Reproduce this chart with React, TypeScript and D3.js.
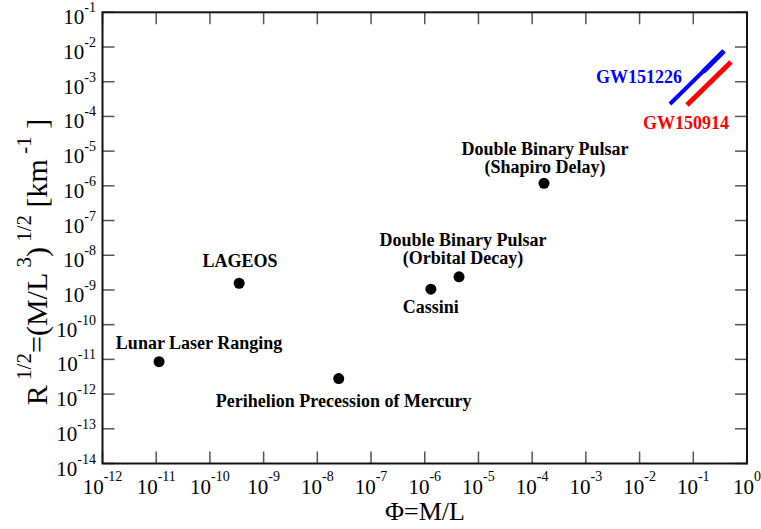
import React from "react";
import * as d3 from "d3";

const W = 761;
const H = 529;
const M = { left: 102.5, right: 14, top: 12.3, bottom: 65.5 };

const xExponents = [-12, -11, -10, -9, -8, -7, -6, -5, -4, -3, -2, -1, 0];
const yExponents = [-14, -13, -12, -11, -10, -9, -8, -7, -6, -5, -4, -3, -2, -1];

const pointNames = [
  "Lunar Laser Ranging",
  "LAGEOS",
  "Perihelion Precession of Mercury",
  "Cassini",
  "Double Binary Pulsar (Orbital Decay)",
  "Double Binary Pulsar (Shapiro Delay)",
];
const pointX = [1.13e-11, 3.5e-10, 2.5e-8, 1.3e-6, 4.35e-6, 1.66e-4];
const pointY = [8.6e-12, 1.56e-9, 2.8e-12, 1.05e-9, 2.4e-9, 1.18e-6];

const labelLines = [
  ["Lunar Laser Ranging"],
  ["LAGEOS"],
  ["Perihelion Precession of Mercury"],
  ["Cassini"],
  ["Double Binary Pulsar", "(Orbital Decay)"],
  ["Double Binary Pulsar", "(Shapiro Delay)"],
];
const labelDx = [40, 1, 5, 0, 4, 1];
const labelDy = [-13, -16, 28, 24, -31, -28];

const gwNames = ["GW151226", "GW150914"];
const gwColors = ["#0000ff", "#ff0000"];
const gwX = [
  [0.0368, 0.372],
  [0.0764, 0.504],
];
const gwY = [
  [2.28e-4, 7.7e-3],
  [2.13e-4, 3.7e-3],
];
// wider upper part of the GW151226 band
const gw151226BandX = [0.153, 0.372];
const gw151226BandY = [1.94e-3, 7.7e-3];

const FONT = "Liberation Serif";

export default function App() {
  const x = d3
    .scaleLog()
    .domain([1e-12, 1])
    .range([M.left, W - M.right]);
  const y = d3
    .scaleLog()
    .domain([1e-14, 1e-1])
    .range([H - M.bottom, M.top]);

  const [x0, x1] = x.range();
  const [y0, y1] = y.range();
  const tickLen = 12;
  const line = d3.line<[number, number]>().x((d) => x(d[0])).y((d) => y(d[1]));

  const boldProps = (c: string) => ({
    fontFamily: FONT,
    fontWeight: 700,
    fontSize: 18,
    fill: c,
  });

  return (
    <svg
      width={W}
      height={H}
      style={{ position: "absolute", left: 0, top: 0, background: "#fff", fontFamily: FONT }}
    >
      <rect x={0} y={0} width={W} height={H} fill="#fff" />
      {xExponents.map((e) => {
        const px = x(Math.pow(10, e));
        return (
          <g key={"xt" + e} stroke="#555" strokeWidth={1.5}>
            <line x1={px} x2={px} y1={y0} y2={y0 - tickLen} />
            <line x1={px} x2={px} y1={y1} y2={y1 + tickLen} />
          </g>
        );
      })}
      {yExponents.map((e) => {
        const py = y(Math.pow(10, e));
        return (
          <g key={"yt" + e} stroke="#555" strokeWidth={1.5}>
            <line x1={x0} x2={x0 + tickLen} y1={py} y2={py} />
            <line x1={x1} x2={x1 - tickLen} y1={py} y2={py} />
          </g>
        );
      })}
      <rect
        x={x0}
        y={y1}
        width={x1 - x0}
        height={y0 - y1}
        fill="none"
        stroke="#111"
        strokeWidth={2}
      />
      {xExponents.map((e) => (
        <text
          key={"xl" + e}
          x={x(Math.pow(10, e))}
          y={y0 + 30}
          textAnchor="middle"
          fontSize={21}
          fill="#000"
        >
          10
          <tspan fontSize={14} dy={-13}>
            {e}
          </tspan>
        </text>
      ))}
      {yExponents.map((e) => (
        <text
          key={"yl" + e}
          x={96}
          y={y(Math.pow(10, e)) + 12}
          textAnchor="end"
          fontSize={21}
          fill="#000"
        >
          10
          <tspan fontSize={14} dy={-12}>
            {e}
          </tspan>
        </text>
      ))}
      <text x={425} y={520} textAnchor="middle" fontSize={26} fill="#000">
        Φ=M/L
      </text>
      <text
        transform={`translate(47,262) rotate(-90)`}
        textAnchor="middle"
        fontSize={30}
        fill="#000"
      >
        R
        <tspan fontSize={21} dy={-16}>
          {" 1/2"}
        </tspan>
        <tspan dy={16}>=(M/L</tspan>
        <tspan fontSize={21} dy={-16}>
          {" 3"}
        </tspan>
        <tspan dy={16}>)</tspan>
        <tspan fontSize={21} dy={-16}>
          {" 1/2"}
        </tspan>
        <tspan dy={16}> [km</tspan>
        <tspan fontSize={21} dy={-16}>
          {" -1"}
        </tspan>
        <tspan dy={16}>{" ]"}</tspan>
      </text>
      {gwNames.map((n, i) => (
        <path
          key={n}
          d={line([
            [gwX[i][0], gwY[i][0]],
            [gwX[i][1], gwY[i][1]],
          ]) || ""}
          stroke={gwColors[i]}
          strokeWidth={i === 0 ? 4 : 5}
          fill="none"
        />
      ))}
      <path
        d={line([
          [gw151226BandX[0], gw151226BandY[0]],
          [gw151226BandX[1], gw151226BandY[1]],
        ]) || ""}
        stroke={gwColors[0]}
        strokeWidth={5}
        fill="none"
      />
      <text
        x={x(gwX[0][0]) + 12}
        y={y(gwY[0][0]) - 21}
        textAnchor="end"
        {...boldProps(gwColors[0])}
      >
        {gwNames[0]}
      </text>
      <text
        x={x(gwX[1][0]) + 42}
        y={y(gwY[1][0]) + 24}
        textAnchor="end"
        {...boldProps(gwColors[1])}
      >
        {gwNames[1]}
      </text>
      {pointNames.map((n, i) => (
        <g key={n}>
          <circle cx={x(pointX[i])} cy={y(pointY[i])} r={5.5} fill="#000" />
          <text
            x={x(pointX[i]) + labelDx[i]}
            y={y(pointY[i]) + labelDy[i]}
            textAnchor="middle"
            {...boldProps("#000")}
          >
            {labelLines[i].map((l, j) => (
              <tspan key={j} x={x(pointX[i]) + labelDx[i]} dy={j === 0 ? 0 : 18}>
                {l}
              </tspan>
            ))}
          </text>
        </g>
      ))}
    </svg>
  );
}
